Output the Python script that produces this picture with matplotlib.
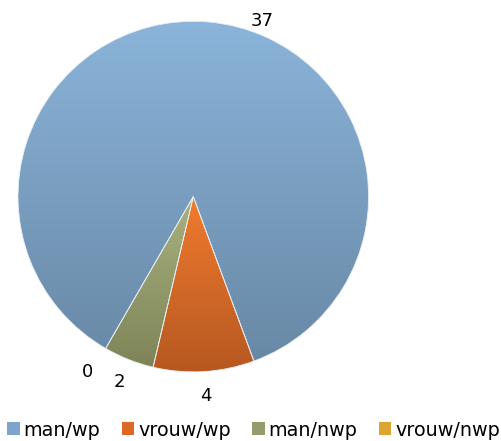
import numpy as np
import matplotlib
matplotlib.use("Agg")
import matplotlib.pyplot as plt
from matplotlib.patches import Patch
from matplotlib.colors import LinearSegmentedColormap

categories = ["man/wp", "vrouw/wp", "man/nwp", "vrouw/nwp"]
values = [37, 4, 2, 0]

top_colors = ["#8BB4DA", "#F07B2E", "#A8B27E", "#EDBA42"]
bottom_colors = ["#6889A6", "#B65821", "#7E8458", "#C38F22"]
legend_colors = ["#7DA5CB", "#DD6927", "#939C6B", "#DCA531"]

W, H = 502, 441
fig = plt.figure(figsize=(W / 100, H / 100), dpi=100)
cx, cy, r = 193.3, 441 - 196.6, 175.3
ax = fig.add_axes([(cx - r) / W, (cy - r) / H, 2 * r / W, 2 * r / H])
ax.set_xlim(-1, 1)
ax.set_ylim(-1, 1)
ax.set_aspect("equal")
ax.axis("off")

wedges, _ = ax.pie(values, startangle=-120, counterclock=False, radius=1,
                   colors=top_colors,
                   wedgeprops=dict(edgecolor="#E8EEF4", linewidth=0.6))

grad = np.linspace(0, 1, 256).reshape(-1, 1)
for w, tc, bc, v in zip(wedges, top_colors, bottom_colors, values):
    if v == 0:
        continue
    ext = w.get_path().get_extents()
    cmap = LinearSegmentedColormap.from_list("g", [tc, bc])
    im = ax.imshow(grad, cmap=cmap, aspect="auto",
                   extent=[ext.x0, ext.x1, ext.y0, ext.y1], origin="upper",
                   zorder=w.get_zorder() + 0.1)
    im.set_clip_path(w)
    w.set_facecolor("none")
    w.set_zorder(w.get_zorder() + 0.2)
ax.set_xlim(-1, 1)
ax.set_ylim(-1, 1)

fs = 13
for i, (w, v) in enumerate(zip(wedges, values)):
    mid = (w.theta1 + w.theta2) / 2
    if i == 0:
        ang, dist = 68.5, 1.075
    elif v == 0:
        ang, dist = mid - 1.2, 1.17
    else:
        ang, dist = mid, 1.14
    ang = np.deg2rad(ang)
    ax.text(dist * np.cos(ang), dist * np.sin(ang), str(v), ha="center",
            va="center", fontsize=fs, color="black")

handles = [Patch(facecolor=c, edgecolor="none") for c in legend_colors]
fig.legend(handles, categories, loc="center", bbox_to_anchor=(0.505, 1 - 430 / H),
           ncol=4, frameon=False, fontsize=13.8, handlelength=0.65,
           handleheight=0.65, handletextpad=0.2, columnspacing=1.12,
           borderaxespad=0)

fig.savefig("out.png", dpi=100)
